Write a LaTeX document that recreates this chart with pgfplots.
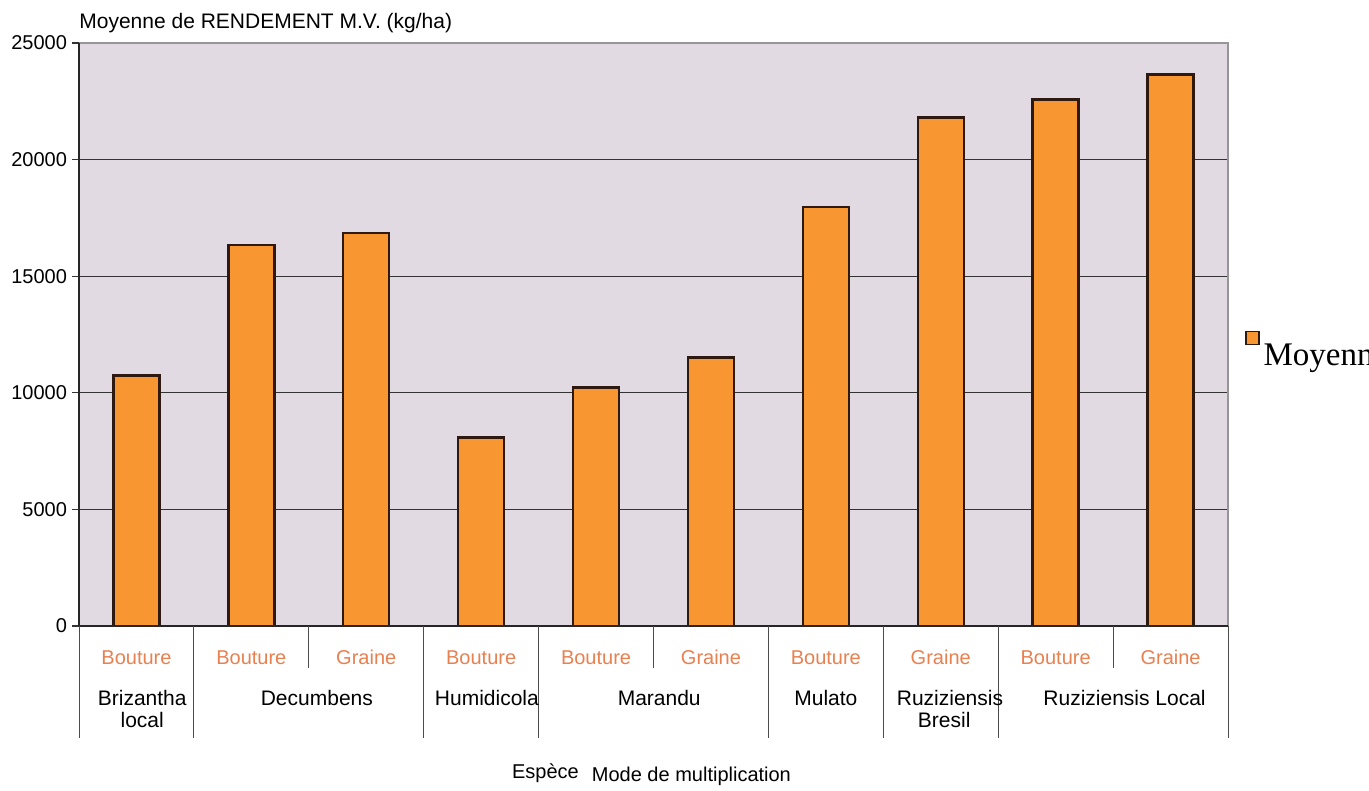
\documentclass[border=0pt]{standalone}
\usepackage{pgfplots}
\pgfplotsset{compat=1.18}
\usepackage{fontspec}
\setmainfont{Liberation Sans}
\newfontfamily\legendfont{Liberation Serif}

\definecolor{plotbg}{RGB}{226,218,227}
\definecolor{barorange}{RGB}{248,150,50}
\definecolor{baredge}{RGB}{45,25,15}
\definecolor{modecolor}{RGB}{232,128,80}
\definecolor{framegray}{RGB}{150,150,150}

\begin{document}
\begin{tikzpicture}
\clip (0,0) rectangle (684.5pt,395.5pt);
\begin{axis}[
  at={(39.5pt,82.5pt)}, anchor=south west,
  scale only axis, width=574.5pt, height=291.5pt,
  xmin=-0.5, xmax=9.5, ymin=0, ymax=25000,
  ybar, bar width=23pt,
  clip=false,
  axis background/.style={fill=plotbg},
  axis line style={draw=none},
  ytick={0,5000,...,25000},
  ytick pos=left,
  scaled y ticks=false,
  ymajorgrids, grid style={black!80, line width=0.5pt},
  ytick align=outside,
  major tick length=3.5pt,
  y tick style={black!80, line width=0.6pt},
  yticklabel style={font=\fontsize{10}{12}\selectfont,
    /pgf/number format/assume math mode=true,
    /pgf/number format/1000 sep={}, xshift=1pt},
  xtick={0,...,9},
  xticklabels={Bouture,Bouture,Graine,Bouture,Bouture,Graine,Bouture,Graine,Bouture,Graine},
  x tick style={draw=none},
  xticklabel style={font=\fontsize{10}{12}\selectfont, text=modecolor, anchor=base, yshift=-15.5pt},
  legend style={at={(axis description cs:1,0.47)}, anchor=west, xshift=8.5pt, draw=none, fill=none,
    font=\legendfont\fontsize{16.5}{18}\selectfont, inner sep=0pt},
  legend image code/.code={\draw[fill=barorange, draw=baredge, line width=0.6pt] (2pt,5.5pt) rectangle (8.5pt,12pt);},
  legend cell align=left,
]
\addplot[fill=barorange, draw=baredge, line width=1.2pt] coordinates {
  (0,10750) (1,16350) (2,16850) (3,8080) (4,10230)
  (5,11520) (6,17970) (7,21800) (8,22570) (9,23650)};
\addlegendentry{Moyenne de RENDEMENT M.V. (kg/ha)}

% plot-area frame
\draw[framegray, line width=0.6pt] (rel axis cs:0,1) -- (rel axis cs:1,1) -- (rel axis cs:1,0);
\draw[black!85, line width=0.8pt] (rel axis cs:0,1) -- (rel axis cs:0,0) -- (rel axis cs:1,0);

% category separators under the axis
\pgfplotsinvokeforeach{-0.5,0.5,2.5,3.5,5.5,6.5,7.5,9.5}{
  \draw[black!70, line width=0.5pt] (axis cs:#1,0) -- ([yshift=-56pt]axis cs:#1,0);}
\pgfplotsinvokeforeach{1.5,4.5,8.5}{
  \draw[black!70, line width=0.5pt] (axis cs:#1,0) -- ([yshift=-21pt]axis cs:#1,0);}

% species names
\begin{scope}[every node/.style={anchor=base, font=\fontsize{10.5}{12}\selectfont, inner sep=0pt}]
\node at ([yshift=-39.5pt]axis cs:0.05,0) {Brizantha};
\node at ([yshift=-50.5pt]axis cs:0.05,0) {local};
\node at ([yshift=-39.5pt]axis cs:1.57,0) {Decumbens};
\node at ([yshift=-39.5pt]axis cs:3.05,0) {Humidicola};
\node at ([yshift=-39.5pt]axis cs:4.55,0) {Marandu};
\node at ([yshift=-39.5pt]axis cs:6.0,0) {Mulato};
\node at ([yshift=-39.5pt]axis cs:7.08,0) {Ruziziensis};
\node at ([yshift=-50.5pt]axis cs:7.03,0) {Bresil};
\node at ([yshift=-39.5pt]axis cs:8.6,0) {Ruziziensis Local};
\end{scope}

% axis titles
\node[anchor=base, font=\fontsize{10}{12}\selectfont, inner sep=0pt] at ([yshift=-76pt]axis cs:3.56,0) {Espèce};
\node[anchor=base, font=\fontsize{10}{12}\selectfont, inner sep=0pt] at ([yshift=-77.5pt]axis cs:4.83,0) {Mode de multiplication};
\node[anchor=base west, font=\fontsize{10.5}{12}\selectfont, inner sep=0pt] at ([yshift=7pt]rel axis cs:0,1) {Moyenne de RENDEMENT M.V. (kg/ha)};
\end{axis}
\end{tikzpicture}
\end{document}
